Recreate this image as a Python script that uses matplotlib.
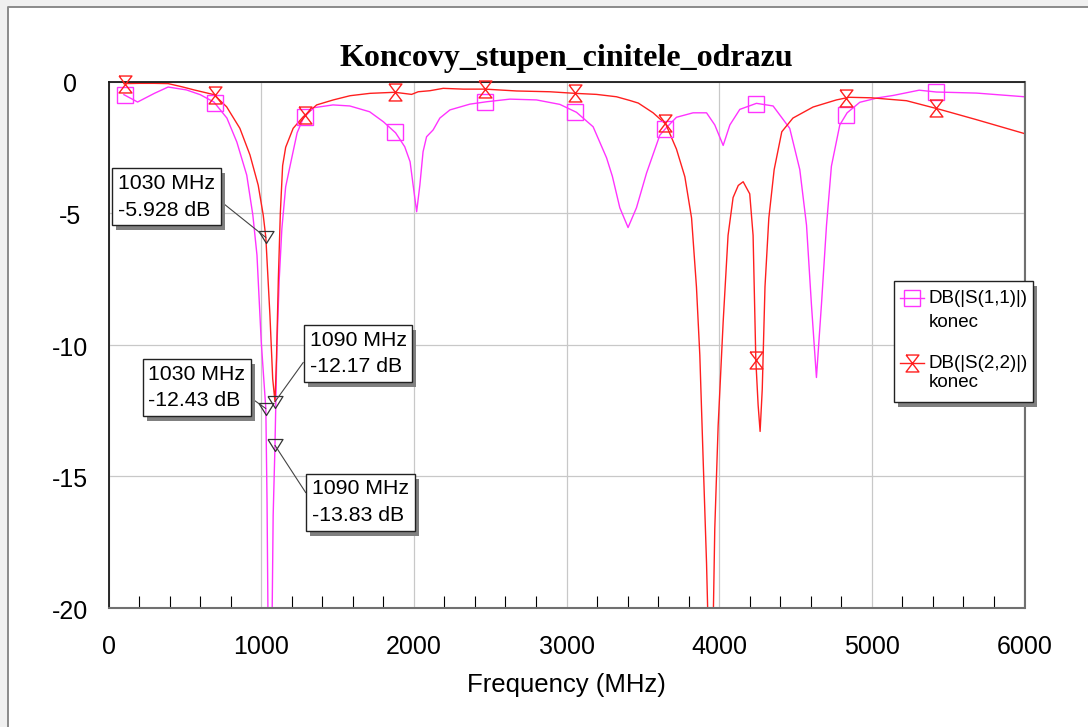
import numpy as np
import matplotlib
matplotlib.use("Agg")
import matplotlib.pyplot as plt
import matplotlib.patheffects as pe
from matplotlib.path import Path
from matplotlib.lines import Line2D
from matplotlib.patches import Rectangle
from matplotlib.transforms import ScaledTranslation

plt.rcParams["axes.unicode_minus"] = False

# --- data (frequency in MHz, level in dB) ---
s11_freq = [100, 190, 300, 390, 510, 600, 690, 775, 840, 905, 945, 972, 1000, 1020, 1030,
            1038, 1045, 1058, 1070, 1078, 1090, 1103, 1118, 1135, 1160, 1200, 1235, 1275,
            1340, 1470, 1580, 1710, 1800, 1880, 1940, 1975, 1995, 2018, 2039, 2060, 2083,
            2126, 2170, 2236, 2367, 2476, 2629, 2803, 2956, 3065, 3174, 3262, 3300, 3349,
            3403, 3458, 3524, 3611, 3650, 3720, 3829, 3917, 3971, 4026, 4070, 4135, 4244,
            4353, 4462, 4528, 4572, 4604, 4637, 4670, 4703, 4735, 4790, 4838, 4921, 5040,
            5140, 5310, 5423, 5685, 6000]
s11_db = [-0.50, -0.78, -0.45, -0.21, -0.32, -0.50, -0.78, -1.39, -2.30, -3.56, -5.08, -6.6,
          -9.9, -11.6, -12.43, -16.0, -21.0, -27.0, -21.0, -16.5, -13.83, -10.0, -7.5, -5.6,
          -4.0, -2.9, -1.95, -1.40, -1.00, -0.89, -0.93, -1.15, -1.53, -1.95, -2.48, -3.05,
          -3.94, -4.95, -3.94, -2.67, -2.10, -1.84, -1.39, -1.08, -0.86, -0.77, -0.67, -0.70,
          -0.87, -1.17, -1.72, -2.90, -3.60, -4.80, -5.55, -4.80, -3.48, -2.04, -1.78, -1.36,
          -1.19, -1.19, -1.65, -2.43, -1.65, -1.06, -0.83, -0.93, -1.78, -3.35, -5.46, -8.46,
          -11.25, -8.46, -5.46, -3.22, -1.65, -1.19, -0.79, -0.62, -0.53, -0.33, -0.40, -0.44,
          -0.58]

s22_freq = [100, 200, 300, 390, 480, 560, 690, 773, 860, 926, 980, 1013, 1030, 1057, 1075,
            1090, 1100, 1112, 1125, 1140, 1160, 1209, 1275, 1363, 1472, 1582, 1713, 1875,
            1985, 2028, 2105, 2192, 2323, 2466, 2673, 2891, 3054, 3196, 3327, 3414, 3470,
            3567, 3650, 3720, 3775, 3819, 3851, 3873, 3895, 3917, 3935, 3945, 3955, 3971,
            3993, 4026, 4058, 4091, 4125, 4157, 4200, 4222, 4240, 4255, 4268, 4282, 4300,
            4325, 4360, 4410, 4483, 4615, 4768, 4851, 4997, 5227, 5445, 5685, 6000]
s22_db = [-0.08, -0.07, -0.07, -0.08, -0.20, -0.32, -0.50, -0.96, -1.78, -2.79, -3.94, -5.08,
          -5.928, -8.9, -11.3, -12.17, -10.5, -7.5, -5.0, -3.2, -2.5, -1.78, -1.34, -0.89,
          -0.70, -0.54, -0.45, -0.41, -0.49, -0.39, -0.35, -0.26, -0.29, -0.29, -0.36, -0.39,
          -0.45, -0.49, -0.58, -0.72, -0.82, -1.19, -1.62, -2.57, -3.62, -5.19, -7.81, -10.4,
          -14.4, -18.3, -22.5, -25.0, -22.5, -17.0, -13.1, -9.13, -5.85, -4.41, -3.95, -3.81,
          -4.27, -5.85, -10.6, -12.3, -13.3, -11.7, -7.8, -5.2, -3.35, -1.91, -1.39, -0.97,
          -0.70, -0.60, -0.62, -0.73, -1.06, -1.45, -1.98]

symbol_freq = [105, 695, 1285, 1875, 2465, 3055, 3645, 4240, 4830, 5420]

# marker readouts: (freq, dB, label text top-left in px, leader attach point on box)
readouts = [
    (1030, -5.928, (118, 174), (1.0, 0.5)),
    (1090, -12.17, (309.5, 331), (0.0, 0.5)),
    (1030, -12.43, (148.5, 364.5), (1.0, 0.35)),
    (1090, -13.83, (312, 479.5), (0.0, 0.5)),
]

W, H, DPI = 1088, 727, 100
MAG = "#ff33ff"
RED = "#ff1f1f"
SANS = "Liberation Sans"


def fx(x):
    return x / W


def fy(y):
    return 1 - y / H


hourglass = Path([(-0.38, 0.5), (0.38, 0.5), (-0.38, -0.5), (0.38, -0.5), (-0.38, 0.5)])
tri_down = Path([(-0.5, 0.4), (0.5, 0.4), (0.0, -0.4), (-0.5, 0.4)])
shadow = [pe.SimplePatchShadow(offset=(3, -3.5), shadow_rgbFace="#808080", alpha=1), pe.Normal()]

fig = plt.figure(figsize=(W / DPI, H / DPI), dpi=DPI, facecolor="#f0f0f0")
# window-like frame: white page, grey edge on the left and top only
fig.patches.append(Rectangle((fx(7.5), 0), 1, fy(6.5), transform=fig.transFigure,
                             fc="white", ec="none", zorder=-10))
fig.add_artist(Line2D([fx(7.5), fx(7.5), 1], [0, fy(6.5), fy(6.5)], transform=fig.transFigure,
                      color="#8a8a8a", lw=1.4, zorder=-9))

x0, x1, y0, y1 = 108.6, 1024.5, 81.5, 607.7
ax = fig.add_axes([fx(x0), fy(y1), (x1 - x0) / W, (y1 - y0) / H])
ax.set_xlim(0, 6000)
ax.set_ylim(-20, 0)

ax.plot(s11_freq, s11_db, color=MAG, lw=1.0, zorder=2)
ax.plot(s22_freq, s22_db, color=RED, lw=1.0, zorder=2)
ax.plot(symbol_freq, np.interp(symbol_freq, s11_freq, s11_db), ls="none", marker="s", ms=12,
        mfc="none", mec=MAG, mew=1.0, zorder=3, clip_on=False)
ax.plot(symbol_freq, np.interp(symbol_freq, s22_freq, s22_db), ls="none", marker=hourglass,
        ms=12.2, mfc="none", mec=RED, mew=1.0, zorder=3, clip_on=False)

# ticks, grid, frame
ax.set_xticks(range(0, 6001, 1000))
ax.set_yticks([-20, -15, -10, -5, 0])
ax.set_xticks([f for f in range(200, 6000, 200) if f % 1000], minor=True)
ax.grid(True, which="major", color="#c8c8c8", lw=0.9)
ax.set_axisbelow(True)
ax.tick_params(which="major", length=0, labelsize=18)
ax.tick_params(axis="x", which="major", pad=19.5)
ax.tick_params(axis="y", which="major", pad=27.8)
ax.tick_params(axis="x", which="minor", direction="in", length=9, width=0.8, color="black")
nudge = ScaledTranslation(0, -4 / DPI, fig.dpi_scale_trans)
for lab in ax.get_yticklabels():
    lab.set_horizontalalignment("center")
    lab.set_verticalalignment("center")
    lab.set_transform(lab.get_transform() + nudge)
for lab in ax.get_xticklabels() + ax.get_yticklabels():
    lab.set_family(SANS)
for side in ("top", "left"):
    ax.spines[side].set_color("#1a1a1a")
    ax.spines[side].set_linewidth(1.3)
for side in ("bottom", "right"):
    ax.spines[side].set_color("#707070")
    ax.spines[side].set_linewidth(1.5)

# marker readouts
for f, db, (tx, ty), rel in readouts:
    ax.plot([f], [db], ls="none", marker=tri_down, ms=10.8, mfc="none", mec="#333333",
            mew=0.9, zorder=4)
    ann = ax.annotate(f"{f} MHz\n{db:g} dB", xy=(f, db), xycoords="data",
                      xytext=(tx, H - ty), textcoords="figure pixels", ha="left", va="top",
                      fontsize=15.3, family=SANS, linespacing=1.5, zorder=6,
                      bbox=dict(boxstyle="square,pad=0.27", fc="white", ec="#222222", lw=1.0),
                      arrowprops=dict(arrowstyle="-", color="#444444", lw=0.8, shrinkA=0,
                                      shrinkB=0, relpos=rel))
    ann.get_bbox_patch().set_path_effects(shadow)

# legend box (drawn by hand, it sticks out past the plot frame)
box = Rectangle((fx(894), fy(402)), (1033 - 894) / W, (402 - 281) / H, transform=fig.transFigure,
                fc="white", ec="#222222", lw=1.0, zorder=5)
box.set_path_effects(shadow)
fig.patches.append(box)
entries = [(MAG, "s", 12, "DB(|S(1,1)|)", 298, 327), (RED, hourglass, 12.2, "DB(|S(2,2)|)", 362.5, 387.3)]
for color, mk, ms, name, yc, ybase in entries:
    fig.add_artist(Line2D([fx(900), fx(924)], [fy(yc), fy(yc)], transform=fig.transFigure,
                          color=color, lw=1.0, zorder=6))
    fig.add_artist(Line2D([fx(912)], [fy(yc)], transform=fig.transFigure, ls="none", marker=mk,
                          ms=ms, mfc="none", mec=color, mew=1.0, zorder=6))
    fig.text(fx(929), fy(yc + 1), name, va="center", ha="left", fontsize=13.5, family=SANS, zorder=7)
    fig.text(fx(929), fy(ybase), "konec", va="baseline", ha="left", fontsize=13.5, family=SANS,
             zorder=7)

fig.text(fx(566), fy(66), "Koncovy_stupen_cinitele_odrazu", ha="center", va="baseline",
         fontsize=23, fontweight="bold", family="Liberation Serif")
fig.text(fx(566), fy(692), "Frequency (MHz)", ha="center", va="baseline", fontsize=18.5,
         family=SANS)

fig.savefig("out.png", dpi=DPI, facecolor=fig.get_facecolor())
